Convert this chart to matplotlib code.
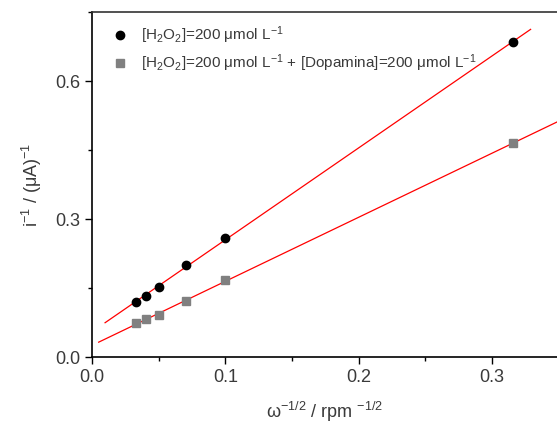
import numpy as np
import matplotlib
matplotlib.use("Agg")
import matplotlib.pyplot as plt
from matplotlib.ticker import MultipleLocator

plt.rcParams['font.family'] = ['Liberation Sans', 'DejaVu Sans']
plt.rcParams['mathtext.fontset'] = 'custom'
plt.rcParams['mathtext.rm'] = 'Liberation Sans'
plt.rcParams['mathtext.it'] = 'Liberation Sans'
plt.rcParams['mathtext.default'] = 'regular'

# omega^-1/2 (rpm^-1/2)
x_pts = [0.0333, 0.0408, 0.05, 0.0707, 0.1, 0.316]
# i^-1 (uA^-1)
y_h2o2 = [0.120, 0.133, 0.153, 0.200, 0.259, 0.685]
y_dopa = [0.073, 0.083, 0.092, 0.122, 0.167, 0.465]

fit_range_h2o2 = [0.0098, 0.329]
fit_range_dopa = [0.005, 0.349]

lab_h2o2 = r"[H$_2$O$_2$]=200 $\mu$mol L$^{-1}$"
lab_dopa = r"[H$_2$O$_2$]=200 $\mu$mol L$^{-1}$ + [Dopamina]=200 $\mu$mol L$^{-1}$"

fig = plt.figure(figsize=(5.57, 4.30), dpi=100)
ax = fig.add_axes([92/557, 73/430, 1 - 92/557, 345/430])

ax.plot(x_pts, y_h2o2, 'o', color='black', markersize=6, label=lab_h2o2, zorder=3)
ax.plot(x_pts, y_dopa, 's', color='#808080', markersize=6, label=lab_dopa, zorder=3)

# ajuste linéaire
for ys, rng in [(y_h2o2, fit_range_h2o2), (y_dopa, fit_range_dopa)]:
    a, b = np.polyfit(x_pts, ys, 1)
    xx = np.array(rng)
    ax.plot(xx, a * xx + b, color='red', lw=0.9, zorder=2)

ax.set_xlim(0, 0.3488)
ax.set_ylim(0, 0.75)
ax.xaxis.set_major_locator(MultipleLocator(0.1))
ax.xaxis.set_minor_locator(MultipleLocator(0.05))
ax.yaxis.set_major_locator(MultipleLocator(0.3))
ax.yaxis.set_minor_locator(MultipleLocator(0.15))
ax.xaxis.set_major_formatter(plt.FormatStrFormatter('%.1f'))
ax.yaxis.set_major_formatter(plt.FormatStrFormatter('%.1f'))
ax.tick_params(which='major', direction='out', length=5, width=1, labelsize=13,
               labelcolor='#3a3a3a', top=False, right=False)
ax.tick_params(which='minor', direction='out', length=3, width=1, top=False, right=False)
ax.spines['right'].set_visible(False)
for s in ['left', 'bottom', 'top']:
    ax.spines[s].set_linewidth(1.2)
ax.spines['top'].set_color('#333333')

ax.set_xlabel(r"$\omega^{-1/2}$ / rpm $^{-1/2}$", fontsize=13, color='#3a3a3a', labelpad=10)
ax.set_ylabel(r"i$^{-1}$ / ($\mu$A)$^{-1}$", fontsize=13, color='#3a3a3a', labelpad=8)

ax.legend(loc='upper left', bbox_to_anchor=(0.02, 0.99), frameon=False, fontsize=11,
          handletextpad=0.8, labelspacing=0.4, handlelength=1.2, borderaxespad=0.2,
          labelcolor='#3a3a3a')

fig.savefig("out.png", dpi=100)
